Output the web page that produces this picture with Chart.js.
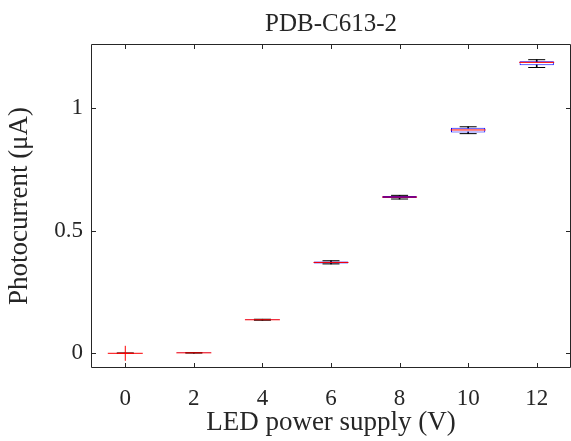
<!DOCTYPE html>
<html>
<head>
<meta charset="utf-8">
<script src="https://cdn.jsdelivr.net/npm/chart.js@4/dist/chart.umd.min.js"></script>
<style>
  html, body { margin: 0; padding: 0; background: #fff; overflow: hidden; }
  #wrap { width: 571px; height: 441px; }
</style>
</head>
<body>
<div id="wrap"><canvas id="box"></canvas></div>
<script>
// LED supply voltage categories
const voltages = ['0', '2', '4', '6', '8', '10', '12'];

// box statistics (uA)
const medians  = [0.000, 0.002, 0.137, 0.371, 0.638, 0.912, 1.188];
const q1       = [0.000, 0.001, 0.136, 0.367, 0.634, 0.902, 1.176];
const q3       = [0.001, 0.003, 0.138, 0.375, 0.642, 0.921, 1.193];
const whiskLo  = [0.000, 0.001, 0.135, 0.365, 0.630, 0.897, 1.167];
const whiskHi  = [0.001, 0.003, 0.139, 0.378, 0.645, 0.925, 1.199];
const outliers = [0.000, null, null, null, null, null, null];

const yTicks = [0, 0.5, 1];
const title = 'PDB-C613-2';

const TEXT = '#262626';
const FONT = '"Liberation Serif", "Times New Roman", serif';

// matlab style frame: box on, ticks pointing inwards, title over the axes
const frame = {
    id: 'frame',
    afterDraw(chart) {
        const { ctx, chartArea: a, scales } = chart;
        const len = 5;
        ctx.save();
        ctx.strokeStyle = TEXT;
        ctx.lineWidth = 1;
        ctx.beginPath();
        ctx.rect(a.left + 0.5, a.top + 0.5, a.right - a.left - 1, a.bottom - a.top - 1);
        scales.x.ticks.forEach((t, i) => {
            const x = Math.round(scales.x.getPixelForTick(i)) + 0.5;
            ctx.moveTo(x, a.bottom); ctx.lineTo(x, a.bottom - len);
            ctx.moveTo(x, a.top); ctx.lineTo(x, a.top + len);
        });
        scales.y.ticks.forEach((t) => {
            const y = Math.round(scales.y.getPixelForValue(t.value)) + 0.5;
            ctx.moveTo(a.left, y); ctx.lineTo(a.left + len, y);
            ctx.moveTo(a.right, y); ctx.lineTo(a.right - len, y);
        });
        ctx.stroke();

        ctx.fillStyle = TEXT;
        ctx.font = '25px ' + FONT;
        ctx.textAlign = 'center';
        ctx.textBaseline = 'middle';
        ctx.fillText(title, (a.left + a.right) / 2, 24);
        ctx.restore();
    }
};

new Chart(document.getElementById('box'), {
    type: 'bar',
    data: {
        labels: voltages,
        datasets: [
            {
                // whiskers
                data: voltages.map((v, i) => [whiskLo[i], whiskHi[i]]),
                backgroundColor: '#000000',
                barThickness: 1,
                grouped: false,
                order: 5
            },
            {
                // boxes
                data: voltages.map((v, i) => [q1[i], q3[i]]),
                backgroundColor: '#ffffff',
                borderColor: '#0000ff',
                borderWidth: 1,
                borderSkipped: false,
                barPercentage: 0.5,
                categoryPercentage: 1,
                grouped: false,
                order: 4
            },
            {
                type: 'line',
                data: whiskHi,
                showLine: false,
                pointStyle: 'line',
                pointRadius: 8.5,
                pointBorderColor: '#000000',
                pointBorderWidth: 1,
                order: 3
            },
            {
                type: 'line',
                data: whiskLo,
                showLine: false,
                pointStyle: 'line',
                pointRadius: 8.5,
                pointBorderColor: '#000000',
                pointBorderWidth: 1,
                order: 3
            },
            {
                type: 'line',
                data: medians,
                showLine: false,
                pointStyle: 'line',
                pointRadius: 17.5,
                pointBorderColor: '#ff0000',
                pointBorderWidth: 1,
                order: 2
            },
            {
                type: 'line',
                data: outliers,
                showLine: false,
                pointStyle: 'cross',
                pointRadius: 7.5,
                pointBorderColor: '#ff0000',
                pointBorderWidth: 1,
                order: 1
            }
        ]
    },
    options: {
        responsive: true,
        maintainAspectRatio: false,
        animation: false,
        layout: { autoPadding: false, padding: { left: 0, right: 0, top: 44, bottom: 0 } },
        plugins: {
            legend: { display: false },
            tooltip: { enabled: false },
            title: { display: false }
        },
        scales: {
            x: {
                offset: true,
                grid: { display: false, drawTicks: false },
                border: { display: false },
                ticks: { color: TEXT, font: { family: FONT, size: 23 }, padding: 17 },
                title: {
                    display: true,
                    text: 'LED power supply (V)',
                    color: TEXT,
                    font: { family: FONT, size: 27, lineHeight: 1.1 },
                    padding: { top: 0, bottom: 3 }
                },
                afterFit: s => { s.height = 73; s.paddingLeft = 0; s.paddingRight = 0; }
            },
            y: {
                min: -0.06,
                max: 1.263,
                grid: { display: false, drawTicks: false },
                border: { display: false },
                afterBuildTicks: s => { s.ticks = yTicks.map(v => ({ value: v })); },
                ticks: {
                    color: TEXT,
                    font: { family: FONT, size: 23 },
                    padding: 8,
                    callback: v => String(v)
                },
                title: {
                    display: true,
                    text: 'Photocurrent (μA)',
                    color: TEXT,
                    font: { family: FONT, size: 27, lineHeight: 1.1 },
                    padding: { top: 5, bottom: 0 }
                },
                afterFit: s => { s.width = 91; s.paddingTop = 0; s.paddingBottom = 0; }
            }
        }
    },
    plugins: [frame]
});
</script>
</body>
</html>
